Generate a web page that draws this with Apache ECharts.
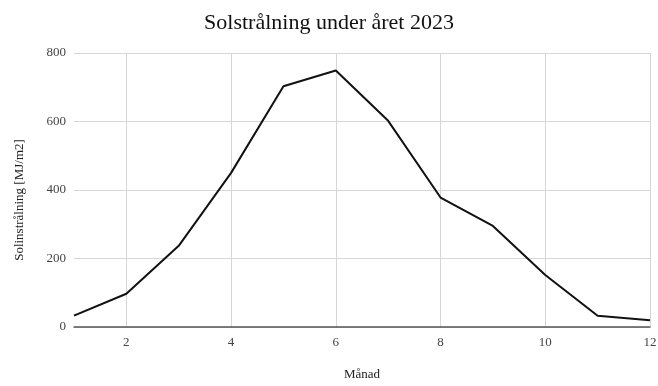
<!DOCTYPE html>
<html><head><meta charset="utf-8">
<script src="https://cdn.jsdelivr.net/npm/echarts@6/dist/echarts.min.js"></script>
<style>html,body{margin:0;padding:0;background:#fff}#c{width:658px;height:386px}</style>
</head><body><div id="c"></div>
<script>
const months = ['1','2','3','4','5','6','7','8','9','10','11','12'];
const radiation = [33, 97, 237, 450, 703, 749, 602, 378, 295, 152, 33, 20];
const yTicks = [0,200,400,600,800];
const xTicks = ['2','4','6','8','10','12'];

const chart = echarts.init(document.getElementById('c'));
const serif = '"Liberation Serif", "DejaVu Serif", serif';
chart.setOption({
  animation: false,
  backgroundColor: '#fff',
  title: {
    text: 'Solstrålning under året 2023',
    left: 'center', top: 7,
    textStyle: {fontFamily: serif, fontSize: 22, fontWeight: 'normal', color: '#111'}
  },
  grid: {left: 74, right: 8, top: 53, bottom: 59, containLabel: false, outerBoundsMode: 'none'},
  xAxis: {
    type: 'category', data: months, boundaryGap: false,
    name: 'Månad', nameLocation: 'middle', nameGap: 41,
    nameTextStyle: {fontFamily: serif, fontSize: 13, color: '#222'},
    axisLine: {show: true, lineStyle: {color: '#555', width: 1.5}},
    axisTick: {show: false},
    axisLabel: {fontFamily: serif, fontSize: 13, color: '#444', margin: 9,
      interval: (i, v) => xTicks.includes(v)},
    splitLine: {show: true, interval: (i, v) => xTicks.includes(v),
      lineStyle: {color: '#d6d6d6', width: 1}}
  },
  yAxis: {
    type: 'value', min: 0, max: 800, interval: 200,
    name: 'Solinstrålning [MJ/m2]', nameLocation: 'middle', nameGap: 48,
    nameTextStyle: {fontFamily: serif, fontSize: 13, color: '#222', padding: [0, 20, 0, 0]},
    axisLine: {show: false}, axisTick: {show: false},
    axisLabel: {fontFamily: serif, fontSize: 13, color: '#444', margin: 8,
      formatter: v => yTicks.includes(v) ? String(v) : ''},
    splitLine: {show: true, lineStyle: {color: '#d6d6d6', width: 1}}
  },
  series: [{
    type: 'line',
    data: radiation,
    showSymbol: false,
    lineStyle: {color: '#111', width: 2}
  }]
});
</script></body></html>
